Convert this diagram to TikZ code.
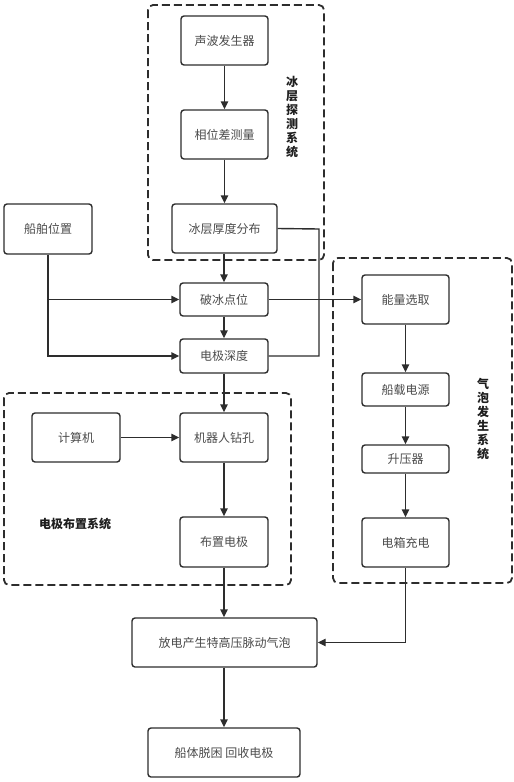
\documentclass[tikz,border=0pt]{standalone}
\usepackage{fontspec}
\setmainfont{Noto Sans CJK SC}
\usetikzlibrary{arrows.meta,positioning,calc}
\definecolor{linecol}{RGB}{45,45,45}
\definecolor{boxtext}{RGB}{75,75,75}
\definecolor{labeltext}{RGB}{30,30,30}
\tikzset{
  stepbox/.style={rounded corners=3pt,draw=linecol,line width=1.4pt,fill=white,
                  text=boxtext,inner sep=0pt,font=\fontsize{12}{14}\selectfont},
  frame/.style={rounded corners=5pt,draw=linecol,line width=1.8pt,
                dash pattern=on 8pt off 4pt},
  syslabel/.style={text=labeltext,font=\fontsize{12}{14}\selectfont\bfseries,
                   align=center,inner sep=0pt},
  flow/.style={-{Triangle[length=8pt,width=7.5pt]},draw=linecol,line width=1.4pt},
  link/.style={draw=linecol,line width=1.4pt},
}

\begin{document}
\begin{tikzpicture}[x=1pt,y=-1pt]
  \useasboundingbox (0,0) rectangle (514,782);
  % --- ice detection system
  \draw[frame] (148,5) rectangle (324,260);
  \node[stepbox,minimum width=87pt,minimum height=49pt] (sound) at (224.5,40.5) {声波发生器};
  \node[stepbox,minimum width=87pt,minimum height=49pt] (phase) at (224.5,134.5) {相位差测量};
  \node[stepbox,minimum width=105pt,minimum height=49pt] (icethick) at (224.5,228.5) {冰层厚度分布};
  \node[syslabel] (icelabel) at (292,117) {冰\\层\\探\\测\\系\\统};
  % --- ship position and break point
  \node[stepbox,minimum width=88pt,minimum height=50pt] (shippos) at (48,229) {船舶位置};
  \node[stepbox,minimum width=88pt,minimum height=33pt] (breakpt) at (224,299.5) {破冰点位};
  \node[stepbox,minimum width=88pt,minimum height=34pt] (edepth) at (224,356) {电极深度};
  \coordinate (iceturn) at (319,229);
  \coordinate (shipfork) at (shippos.south |- breakpt.west);
  % --- bubble generation system
  \draw[frame] (333,258) rectangle (512,583);
  \node[stepbox,minimum width=87pt,minimum height=49pt] (energy) at (405.5,299.5) {能量选取};
  \node[stepbox,minimum width=87pt,minimum height=33pt] (power) at (405.5,389.5) {船载电源};
  \node[stepbox,minimum width=87pt,minimum height=28pt] (boost) at (405.5,459) {升压器};
  \node[stepbox,minimum width=87pt,minimum height=49pt] (charge) at (405.5,542.5) {电箱充电};
  \node[syslabel] (bubblelabel) at (483,419) {气\\泡\\发\\生\\系\\统};
  % --- electrode placement system
  \draw[frame] (4,393) rectangle (291,585);
  \node[stepbox,minimum width=88pt,minimum height=49pt] (computer) at (76,437.5) {计算机};
  \node[stepbox,minimum width=88pt,minimum height=49pt] (robot) at (224,437.5) {机器人钻孔};
  \node[stepbox,minimum width=88pt,minimum height=50pt] (place) at (224,542) {布置电极};
  \node[syslabel] (elabel) at (75,524) {电极布置系统};
  % --- discharge and escape
  \node[stepbox,minimum width=185pt,minimum height=49pt] (discharge) at (224.5,642.5) {放电产生特高压脉动气泡};
  \node[stepbox,minimum width=152pt,minimum height=49pt] (escape) at (224,752.5) {船体脱困 回收电极};
  % --- connectors
  \draw[flow] (sound) -- (phase);
  \draw[flow] (phase) -- (icethick);
  \draw[flow] (icethick.south -| breakpt) -- (breakpt);
  \draw[flow] (breakpt) -- (edepth);
  \draw[link] (icethick.east) -- (iceturn) |- (edepth.east);
  \draw[flow] (shippos.south) |- (edepth.west);
  \draw[flow] (shipfork) -- (breakpt.west);
  \draw[flow] (breakpt.east) -- (energy.west);
  \draw[flow] (energy) -- (power);
  \draw[flow] (power) -- (boost);
  \draw[flow] (boost) -- (charge);
  \draw[flow] (charge.south) |- (discharge.east);
  \draw[flow] (edepth) -- (robot);
  \draw[flow] (computer) -- (robot);
  \draw[flow] (robot) -- (place);
  \draw[flow] (place) -- (discharge.north -| place);
  \draw[flow] (discharge.south -| escape) -- (escape);
\end{tikzpicture}
\end{document}
